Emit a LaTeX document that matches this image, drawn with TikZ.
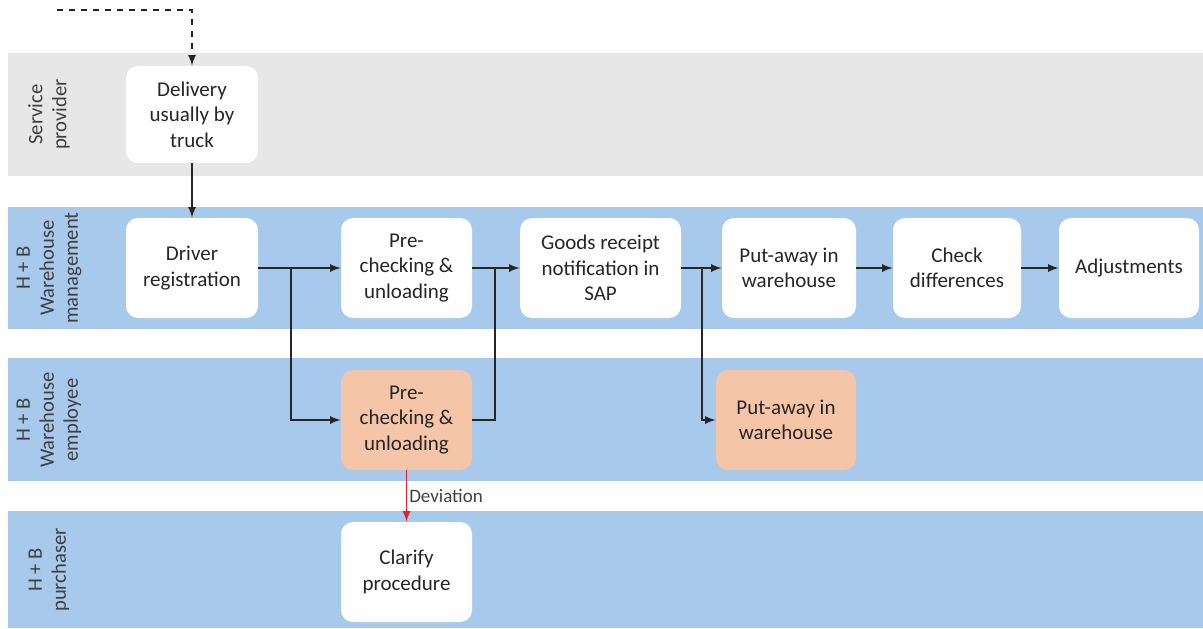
\documentclass[tikz,border=0pt]{standalone}
\usepackage{fontspec}
\setmainfont{Carlito}
\definecolor{lanegray}{HTML}{E7E7E7}
\definecolor{laneblue}{HTML}{A7C9EB}
\definecolor{taskorange}{HTML}{F5C5A8}
\definecolor{txtgray}{HTML}{262626}
\definecolor{lblgray}{HTML}{404040}
\definecolor{devred}{HTML}{E0202A}
\tikzset{
	task/.style={fill=white, rounded corners=6pt, align=center, text=txtgray, inner sep=2pt,
		font=\fontsize{10.5}{12.75}\selectfont, minimum height=50pt},
	empl/.style={task, fill=taskorange},
	lanelbl/.style={rotate=90, align=center, text=lblgray, font=\fontsize{10.3}{12}\selectfont},
	flow/.style={-latex, line width=0.8pt, draw=txtgray}
}
\begin{document}
\begin{tikzpicture}[x=0.5pt, y=-0.5pt]
	\useasboundingbox (0,0) rectangle (1203,628);
	\fill [lanegray] (8,53) rectangle (1203,176);
	\fill [laneblue] (8,207) rectangle (1203,329);
	\fill [laneblue] (8,358) rectangle (1203,481);
	\fill [laneblue] (8,511) rectangle (1203,628);
	\node [lanelbl] (lsp) at (49,114.5) {Service\\provider};
	\node [lanelbl] (lwm) at (49,268) {H + B\\Warehouse\\management};
	\node [lanelbl] (lwe) at (49,420) {H + B\\Warehouse\\employee};
	\node [lanelbl] (lpu) at (49,570) {H + B\\purchaser};
	\node [task, minimum width=66pt, minimum height=48.5pt] (deliv) at (192,114.5) {Delivery\\usually by\\truck};
	\node [task, minimum width=66pt] (driver) at (192,268) {Driver\\registration};
	\node [task, minimum width=65.5pt] (precheck) at (406.5,268) {Pre-\\checking \&\\unloading};
	\node [task, minimum width=80.5pt] (goods) at (600.5,268) {Goods receipt\\notification in\\SAP};
	\node [task, minimum width=67pt] (putaway) at (789,268) {Put-away in\\warehouse};
	\node [task, minimum width=64pt] (check) at (957,268) {Check\\differences};
	\node [task, minimum width=70pt] (adjust) at (1129,268) {Adjustments};
	\node [empl, minimum width=65.5pt] (precheckemp) at (406.5,420) {Pre-\\checking \&\\unloading};
	\node [empl, minimum width=70pt] (putawayemp) at (786,420) {Put-away in\\warehouse};
	\node [task, minimum width=65.5pt] (clarify) at (406.5,572) {Clarify\\procedure};
	\coordinate (start) at (57,10);
	\coordinate (j1) at (291,268);
	\coordinate (j2) at (495,268);
	\coordinate (j3) at (702,268);
	\draw [flow, dashed] (start) -| (deliv.north);
	\draw [flow] (deliv.south) -- (driver.north);
	\draw [flow] (driver.east) -- (precheck.west);
	\draw [flow] (j1) |- (precheckemp.west);
	\draw [flow] (precheck.east) -- (goods.west);
	\draw [line width=0.8pt, draw=txtgray] (precheckemp.east) -| (j2);
	\draw [flow] (goods.east) -- (putaway.west);
	\draw [flow] (j3) |- (putawayemp.west);
	\draw [flow] (putaway.east) -- (check.west);
	\draw [flow] (check.east) -- (adjust.west);
	\draw [flow, draw=devred] (precheckemp.south) --node[right, inner sep=1pt, text=lblgray, font=\fontsize{9.5}{11}\selectfont]{Deviation} (clarify.north);
\end{tikzpicture}
\end{document}
